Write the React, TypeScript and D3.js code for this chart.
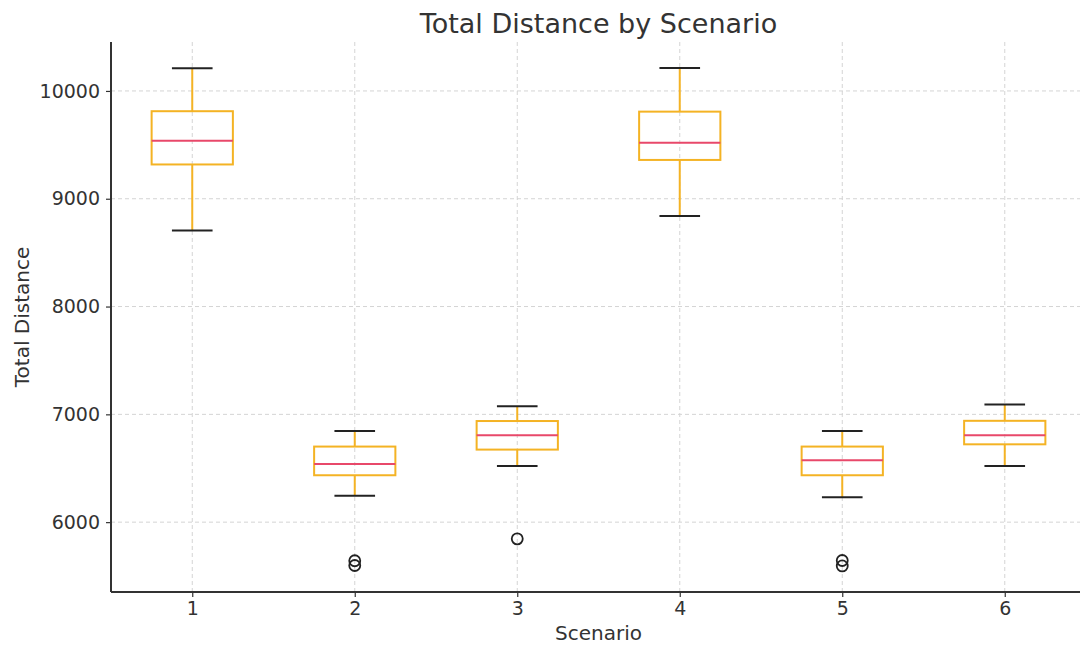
import React, { useEffect, useRef } from 'react';
import * as d3 from 'd3';

// box stats, one entry per scenario
const scenarios = [1, 2, 3, 4, 5, 6];
const whiskerLow = [8705, 6245, 6520, 8840, 6232, 6520];
const q1 = [9318, 6435, 6673, 9360, 6435, 6722];
const medians = [9537, 6540, 6806, 9520, 6574, 6806];
const q3 = [9812, 6701, 6938, 9808, 6701, 6940];
const whiskerHigh = [10210, 6845, 7076, 10212, 6845, 7092];
const outliers = [[], [5642, 5598], [5845], [], [5644, 5594], []];
const yTicks = [6000, 7000, 8000, 9000, 10000];

const W = 1080;
const H = 647;
const FONT = 'DejaVu Sans, sans-serif';

const App = () => {
    const chartRef = useRef(null);

    useEffect(() => {
        const svg = d3.select(chartRef.current);
        svg.selectAll('*').remove();

        const left = 111, right = 1086, top = 42, bottom = 592;

        const x = d3.scaleLinear().domain([0.5, 6.5]).range([left, right]);
        const y = d3.scaleLinear().domain([5352, 10454]).range([bottom, top]);
        const unit = x(1) - x(0);

        // grid
        const grid = svg.append('g');
        grid.selectAll('.gx')
            .data(scenarios)
            .enter()
            .append('line')
            .attr('x1', d => x(d)).attr('x2', d => x(d))
            .attr('y1', top).attr('y2', bottom)
            .attr('stroke', '#d4d4d4')
            .attr('stroke-dasharray', '4,3')
            .attr('stroke-width', 1);
        grid.selectAll('.gy')
            .data(yTicks)
            .enter()
            .append('line')
            .attr('x1', left).attr('x2', right)
            .attr('y1', d => y(d)).attr('y2', d => y(d))
            .attr('stroke', '#d4d4d4')
            .attr('stroke-dasharray', '4,3')
            .attr('stroke-width', 1);

        // axes
        const xAxis = d3.axisBottom(x).tickValues(scenarios).tickFormat(d3.format('d')).tickSize(5).tickPadding(5);
        const yAxis = d3.axisLeft(y).tickValues(yTicks).tickFormat(d3.format('d')).tickSize(5).tickPadding(6);

        const gx = svg.append('g')
            .attr('transform', `translate(0, ${bottom})`)
            .call(xAxis);
        const gy = svg.append('g')
            .attr('transform', `translate(${left}, 0)`)
            .call(yAxis);

        [gx, gy].forEach(g => {
            g.select('.domain').attr('stroke', '#333').attr('stroke-width', 2);
            g.selectAll('.tick line').attr('stroke', '#333').attr('stroke-width', 1.2);
            g.selectAll('.tick text')
                .attr('fill', '#333')
                .style('font-family', FONT)
                .style('font-size', '19px');
        });
        gx.select('.domain').attr('d', `M${left},0H${right}`);
        gy.select('.domain').attr('d', `M0,${top}V${bottom}`);

        // boxes
        const boxes = svg.append('g');
        scenarios.forEach((s, i) => {
            const cx = x(s);
            const bw = unit * 0.5;
            const cw = unit * 0.25;
            const orange = '#f4b324';

            boxes.append('line')
                .attr('x1', cx).attr('x2', cx)
                .attr('y1', y(q3[i])).attr('y2', y(whiskerHigh[i]))
                .attr('stroke', orange).attr('stroke-width', 2);
            boxes.append('line')
                .attr('x1', cx).attr('x2', cx)
                .attr('y1', y(q1[i])).attr('y2', y(whiskerLow[i]))
                .attr('stroke', orange).attr('stroke-width', 2);

            [whiskerHigh[i], whiskerLow[i]].forEach(v => {
                boxes.append('line')
                    .attr('x1', cx - cw / 2).attr('x2', cx + cw / 2)
                    .attr('y1', y(v)).attr('y2', y(v))
                    .attr('stroke', '#222').attr('stroke-width', 2);
            });

            boxes.append('rect')
                .attr('x', cx - bw / 2)
                .attr('y', y(q3[i]))
                .attr('width', bw)
                .attr('height', y(q1[i]) - y(q3[i]))
                .attr('fill', 'none')
                .attr('stroke', orange)
                .attr('stroke-width', 2);

            boxes.append('line')
                .attr('x1', cx - bw / 2).attr('x2', cx + bw / 2)
                .attr('y1', y(medians[i])).attr('y2', y(medians[i]))
                .attr('stroke', '#e8486a').attr('stroke-width', 2);

            boxes.selectAll(null)
                .data(outliers[i])
                .enter()
                .append('circle')
                .attr('cx', cx)
                .attr('cy', d => y(d))
                .attr('r', 5.5)
                .attr('fill', 'none')
                .attr('stroke', '#222')
                .attr('stroke-width', 1.8);
        });

        // labels
        svg.append('text')
            .attr('x', (left + right) / 2)
            .attr('y', 33)
            .attr('text-anchor', 'middle')
            .attr('fill', '#333')
            .style('font-family', FONT)
            .style('font-size', '27px')
            .text('Total Distance by Scenario');

        svg.append('text')
            .attr('x', (left + right) / 2)
            .attr('y', 640)
            .attr('text-anchor', 'middle')
            .attr('fill', '#333')
            .style('font-family', FONT)
            .style('font-size', '20px')
            .text('Scenario');

        svg.append('text')
            .attr('transform', `translate(29, ${(top + bottom) / 2}) rotate(-90)`)
            .attr('text-anchor', 'middle')
            .attr('fill', '#333')
            .style('font-family', FONT)
            .style('font-size', '20px')
            .text('Total Distance');
    }, []);

    return (
        <svg
            ref={chartRef}
            width={W}
            height={H}
            style={{ position: 'absolute', left: 0, top: 0, background: '#fff' }}
        ></svg>
    );
};

export default App;
